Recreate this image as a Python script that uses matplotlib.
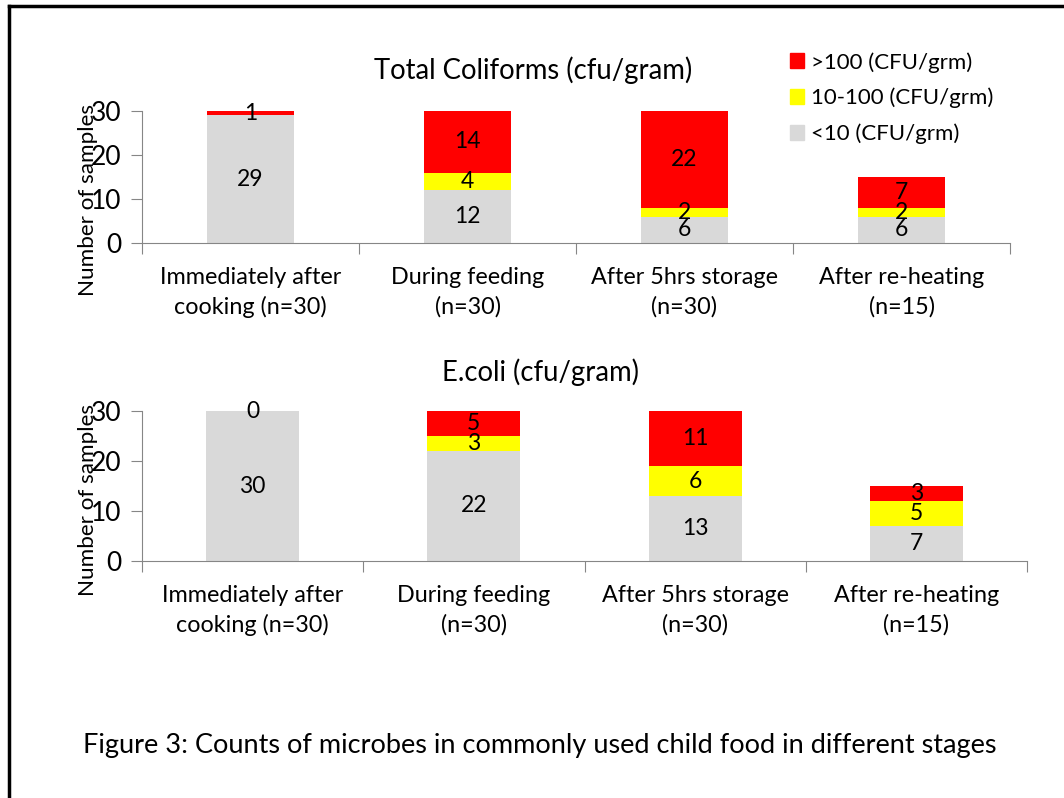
import numpy as np
import matplotlib
matplotlib.use("Agg")
import matplotlib.pyplot as plt
from matplotlib.patches import Patch

plt.rcParams['font.family'] = ['Lato', 'DejaVu Sans']

stages = ["Immediately after\ncooking (n=30)", "During feeding\n(n=30)",
          "After 5hrs storage\n(n=30)", "After re-heating\n(n=15)"]
legend_labels = [">100 (CFU/grm)", "10-100 (CFU/grm)", "<10 (CFU/grm)"]

# Total coliforms
coli_low = [29, 12, 6, 6]
coli_mid = [0, 4, 2, 2]
coli_high = [1, 14, 22, 7]

# E.coli
ecoli_low = [30, 22, 13, 7]
ecoli_mid = [0, 3, 6, 5]
ecoli_high = [0, 5, 11, 3]

c_red = '#FF0000'
c_yel = '#FFFF00'
c_gry = '#D9D9D9'
axis_col = '#868686'

fig = plt.figure(figsize=(10.64, 7.98), dpi=100)

# border round the slide (left and top only visible)
fig.add_artist(plt.Line2D([0.0085, 0.0085], [0, 0.992], color='black', lw=2.5))
fig.add_artist(plt.Line2D([0.0085, 1], [0.992, 0.992], color='black', lw=2.5))


def draw_panel(ax, low, mid, high, width, show_mid_zero):
    x = np.arange(len(low))
    low = np.array(low)
    mid = np.array(mid)
    high = np.array(high)
    ax.bar(x, low, width, color=c_gry)
    ax.bar(x, mid, width, bottom=low, color=c_yel)
    ax.bar(x, high, width, bottom=low + mid, color=c_red)
    for i in range(len(x)):
        ax.text(x[i], low[i] / 2, str(low[i]), ha='center', va='center', fontsize=16.5)
        if mid[i] > 0:
            ax.text(x[i], low[i] + mid[i] / 2, str(mid[i]), ha='center', va='center', fontsize=16.5)
        if high[i] > 0 or show_mid_zero:
            ax.text(x[i], low[i] + mid[i] + high[i] / 2, str(high[i]), ha='center', va='center', fontsize=16.5)
    ax.set_xlim(-0.5, len(x) - 0.5)
    ax.set_ylim(0, 30)
    ax.set_yticks([0, 10, 20, 30])
    ax.tick_params(axis='y', labelsize=19, length=8, color=axis_col, pad=7)
    ax.set_xticks(np.arange(-0.5, len(x)), minor=False)
    ax.set_xticklabels([])
    ax.tick_params(axis='x', length=8, color=axis_col)
    for s in ['top', 'right']:
        ax.spines[s].set_visible(False)
    for s in ['left', 'bottom']:
        ax.spines[s].set_color(axis_col)
    for i in range(len(x)):
        ax.annotate(stages[i], xy=(x[i], 0), xycoords=('data', 'axes fraction'),
                    xytext=(0, -17.6), textcoords='offset points',
                    ha='center', va='top', fontsize=16.8, linespacing=1.42)


ax1 = fig.add_axes([142 / 1064, 1 - 243 / 798, 868 / 1064, 132 / 798])
draw_panel(ax1, coli_low, coli_mid, coli_high, 0.4, False)
ax2 = fig.add_axes([142 / 1064, 1 - 561 / 798, 885 / 1064, 150 / 798])
draw_panel(ax2, ecoli_low, ecoli_mid, ecoli_high, 0.42, True)

fig.text(533 / 1064, 1 - 70 / 798, "Total Coliforms (cfu/gram)", ha='center', va='center', fontsize=19.8)
fig.text(540 / 1064, 1 - 372 / 798, "E.coli (cfu/gram)", ha='center', va='center', fontsize=19.8)
fig.text(88 / 1064, 1 - 200 / 798, "Number of samples", rotation=90, ha='center', va='center', fontsize=16.2)
fig.text(88 / 1064, 1 - 500 / 798, "Number of samples", rotation=90, ha='center', va='center', fontsize=16.2)
fig.text(540 / 1064, 1 - 745 / 798,
         "Figure 3: Counts of microbes in commonly used child food in different stages",
         ha='center', va='center', fontsize=19.5)

handles = [Patch(color=c_red), Patch(color=c_yel), Patch(color=c_gry)]
fig.legend(handles, legend_labels, loc='upper left', bbox_to_anchor=(770 / 1064, 1 - 32 / 798),
           frameon=False, fontsize=16, handlelength=0.65, handleheight=0.65,
           handletextpad=0.3, labelspacing=0.68)

fig.savefig("out.png", dpi=100)
